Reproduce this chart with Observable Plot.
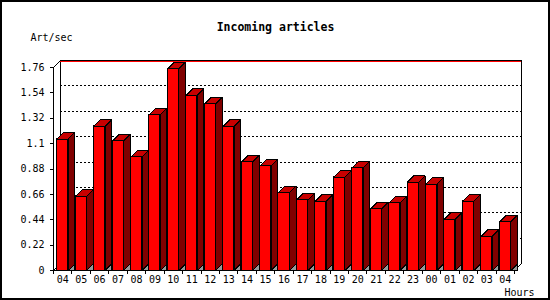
<!DOCTYPE html>
<html><head><meta charset="utf-8">
<script src="https://cdn.jsdelivr.net/npm/d3@7"></script>
<script src="https://cdn.jsdelivr.net/npm/@observablehq/plot@0.6"></script>
<style>
html,body{margin:0;padding:0;background:#fff;}
#chart svg{display:block;}
</style></head><body><div id="chart"></div>
<script>
const hours = ["04","05","06","07","08","09","10","11","12","13","14","15","16","17","18","19","20","21","22","23","00","01","02","03","04"];
const rates = [1.14,0.644,1.251,1.124,0.986,1.35,1.749,1.52,1.445,1.251,0.942,0.908,0.674,0.613,0.601,0.809,0.89,0.535,0.587,0.766,0.748,0.445,0.601,0.297,0.422];
const yTicks = [0,0.22,0.44,0.66,0.88,1.1,1.32,1.54,1.76];
const yTickLabels = ["0","0.22","0.44","0.66","0.88","1.1","1.32","1.54","1.76"];
const title = "Incoming articles";
const yTitle = "Art/sec";
const xTitle = "Hours";

const W = 550, H = 300, mL = 53, mR = 36, mT = 67, mB = 30;
const yMax = yTicks[yTicks.length - 1];
const n = hours.length;
const stepPx = (W - mL - mR) / n;
const unitPx = (H - mT - mB) / yMax;
const wallDepth = 7, barDepth = 6.5;
const bx = barDepth / stepPx, by = barDepth / unitPx;
const wx = wallDepth / stepPx, wy = wallDepth / unitPx;

const bars = rates.map((v, i) => ({i, hour: hours[i], v, x1: i + 0.2, x2: i + 0.8}));
const poly = (b, pts) => pts.map(([x, y]) => ({id: b.i, x, y}));
const tops = bars.flatMap(b => poly(b, [[b.x1, b.v], [b.x2, b.v], [b.x2 + bx, b.v + by], [b.x1 + bx, b.v + by]]));
const sides = bars.flatMap(b => poly(b, [[b.x2, 0], [b.x2 + bx, by], [b.x2 + bx, b.v + by], [b.x2, b.v]]));
const tris = bars.flatMap(b => poly(b, [[b.x2, 0], [b.x2 + bx, by], [b.x2 + bx, 0]]));
const gridTicks = yTicks.slice(1, -1);
const corners = [
  {x1: 0, y1: yMax, x2: wx, y2: yMax + wy},
  {x1: 0, y1: 0, x2: wx, y2: wy},
  {x1: n, y1: 0, x2: n + wx, y2: wy}
];

const mono = "DejaVu Sans Mono, monospace";
const poly3d = (data, fill) => Plot.line(data, {x: "x", y: "y", z: "id", curve: "linear-closed", fill, stroke: "black", strokeWidth: 1, strokeLinejoin: "miter", strokeLinecap: "butt"});

const chart = Plot.plot({
  width: W, height: H,
  marginLeft: mL, marginRight: mR, marginTop: mT, marginBottom: mB,
  style: {fontFamily: mono, fontSize: "10px", background: "white", color: "black", shapeRendering: "crispEdges"},
  x: {type: "linear", domain: [0, n]},
  y: {type: "linear", domain: [0, yMax]},
  marks: [
    // back wall
    Plot.ruleY(gridTicks, {x1: 0, x2: n, dx: wallDepth, dy: -wallDepth, stroke: "black", strokeDasharray: "2,2"}),
    Plot.ruleX([0, n], {y1: 0, y2: yMax, dx: wallDepth, dy: -wallDepth, stroke: "black"}),
    Plot.ruleY([yMax], {x1: 0, x2: n, dx: wallDepth, dy: -wallDepth, stroke: "black"}),
    Plot.ruleY([yMax], {x1: 0, x2: n, dx: wallDepth, dy: -wallDepth + 1, stroke: "red"}),
    Plot.link(corners, {x1: "x1", y1: "y1", x2: "x2", y2: "y2", stroke: "black"}),
    // bars
    Plot.rect(bars, {x1: "x1", x2: "x2", y1: 0, y2: "v", fill: "#ff0000", stroke: "black"}),
    poly3d(tops, "#c80000"),
    poly3d(sides, "#800000"),
    poly3d(tris, "#999999"),
    // axes
    Plot.ruleX([0], {y1: 0, y2: yMax, stroke: "black"}),
    Plot.ruleY([0], {x1: 0, x2: n, stroke: "black"}),
    Plot.axisY({ticks: yTicks, tickFormat: d => yTickLabels[yTicks.indexOf(d)], tickSize: 3, tickPadding: 6, label: null, fontSize: 10}),
    Plot.axisX({ticks: d3.range(n + 1), tickFormat: () => "", tickSize: 4, label: null}),
    Plot.axisX({ticks: hours.map((_, i) => i + 0.5), tickFormat: d => hours[Math.floor(d)], tickSize: 0, tickPadding: 5, label: null, fontSize: 10}),
    // titles
    Plot.text([title], {text: d => d, frameAnchor: "top", lineAnchor: "middle", dx: -8.5, dy: -40, fontWeight: "bold", fontSize: 11.5}),
    Plot.text([yTitle], {text: d => d, frameAnchor: "top-left", lineAnchor: "middle", textAnchor: "start", dx: -23, dy: -30, fontSize: 10}),
    Plot.text([xTitle], {text: d => d, frameAnchor: "bottom-right", lineAnchor: "middle", textAnchor: "start", dx: -10, dy: 22, fontSize: 10})
  ]
});
d3.select(chart).append("rect")
  .attr("x", 1).attr("y", 1).attr("width", W - 2).attr("height", H - 2)
  .attr("fill", "none").attr("stroke", "black").attr("stroke-width", 2);
document.getElementById("chart").appendChild(chart);
</script></body></html>
